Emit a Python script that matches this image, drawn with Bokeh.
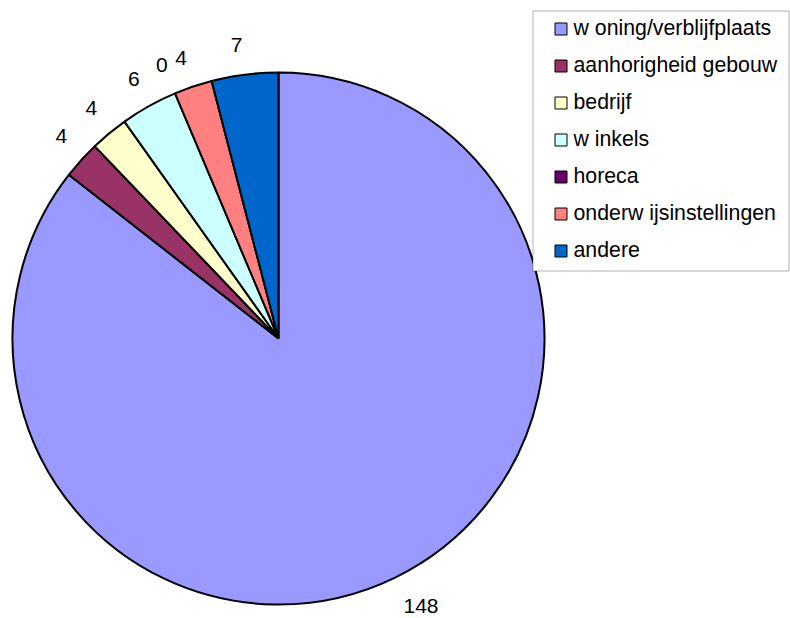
import math
from bokeh.plotting import figure
from bokeh.models import ColumnDataSource, Legend, LegendItem, Range1d, BoxAnnotation, CDSView, BooleanFilter
from bokeh.embed import file_html
from bokeh.resources import INLINE
from bokeh.core.properties import value

categories = ["w oning/verblijfplaats", "aanhorigheid gebouw", "bedrijf", "w inkels",
              "horeca", "onderw ijsinstellingen", "andere"]
counts = [148, 4, 4, 6, 0, 4, 7]
colors = ["#9999FF", "#993366", "#FFFFCC", "#CCFFFF", "#660066", "#FF8080", "#0066CC"]

R = 266
LR = 285
FONT = "Liberation Sans"

total = sum(counts)
starts, ends, lx, ly, aligns, yoffs = [], [], [], [], [], []
cum = 0
for c in counts:
    t0 = cum / total * 2 * math.pi
    cum += c
    t1 = cum / total * 2 * math.pi
    starts.append(math.pi / 2 - t0)
    ends.append(math.pi / 2 - t1)
    mid = (t0 + t1) / 2
    ux, uy = math.sin(mid), math.cos(mid)
    lx.append(LR * ux)
    ly.append(LR * uy)
    aligns.append("left" if ux >= 0 else "right")
    yoffs.append(-11 if uy >= 0 else 11)

src = ColumnDataSource(dict(cat=categories, count=counts, color=colors,
                            start=starts, end=ends, lx=lx, ly=ly,
                            align=aligns, yoff=yoffs,
                            label=[str(c) for c in counts]))
nonzero = CDSView(filter=BooleanFilter([c > 0 for c in counts]))

p = figure(width=790, height=618, x_range=Range1d(-278, 512), y_range=Range1d(-280, 338),
           output_backend="svg", toolbar_location=None, min_border=0)
p.axis.visible = False
p.grid.visible = False
p.outline_line_color = None
p.background_fill_color = "white"

p.wedge(x=0, y=0, radius=R, start_angle="start", end_angle="end", direction="clock",
        fill_color="color", line_color="black", line_width=2, source=src, view=nonzero)

p.text(x="lx", y="ly", text="label", text_align="align", text_baseline="middle",
       y_offset="yoff",
       text_font=value(FONT), text_font_size="21px", text_color="black", source=src)

leg_r = p.wedge(x=0, y=0, radius=R, start_angle="start", end_angle="end", direction="clock",
                fill_color="color", line_color="black", line_width=1, source=src, visible=False)

box = BoxAnnotation(left=254.5, right=510.5, top=327.5, bottom=67.5,
                    fill_color="white", fill_alpha=1, line_color="black", line_width=1)
p.add_layout(box)

legend = Legend(items=[LegendItem(label=cat, renderers=[leg_r], index=i)
                       for i, cat in enumerate(categories)],
                location=(552.5, 354.5), padding=0, spacing=11, margin=0,
                label_height=26, glyph_height=15, glyph_width=15, label_standoff=6,
                border_line_color=None, background_fill_alpha=0,
                label_text_font=FONT, label_text_font_size="21.3px", label_text_color="black")
p.add_layout(legend)

open("out.html", "w").write(file_html(p, INLINE))
